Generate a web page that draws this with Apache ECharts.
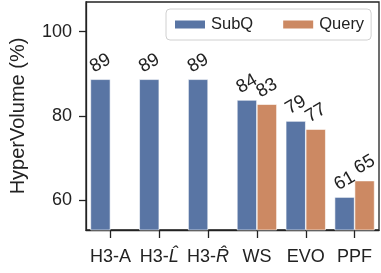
<!DOCTYPE html>
<html>
<head>
<meta charset="utf-8">
<script src="https://cdn.jsdelivr.net/npm/echarts@6/dist/echarts.min.js"></script>
<style>html,body{margin:0;padding:0;background:#fff;}#c{width:381px;height:273px;}</style>
</head>
<body>
<div id="c"></div>
<script>
var categories = ['H3-A', 'H3-L', 'H3-R', 'WS', 'EVO', 'PPF'];
var subqValues = [88.7, 88.7, 88.7, 83.8, 78.8, 60.8];
var queryValues = [null, null, null, 82.8, 76.9, 64.7];
var yTicks = [60, 80, 100];
var seriesNames = ['SubQ', 'Query'];
var yAxisName = 'HyperVolume (%)';

var font = '"Liberation Sans", Arial, Helvetica, sans-serif';
var dark = '#222222';
var chart = echarts.init(document.getElementById('c'), null, {renderer: 'canvas'});

function catLabel(v) {
  if (v === 'H3-L') return '{n|H3-}{i|L\u0302}';
  if (v === 'H3-R') return '{n|H3-}{i|R\u0302}';
  return '{n|' + v + '}';
}
var labelCfg = {
  show: true, position: 'top', distance: 16, rotate: 30,
  align: 'center', verticalAlign: 'middle',
  fontFamily: font, fontSize: 18.5, color: dark,
  formatter: function (p) { return Math.round(p.value); }
};

chart.setOption({
  animation: false,
  textStyle: {fontFamily: font},
  grid: {left: 73, right: 2, top: 2, bottom: 43, show: true, borderColor: dark, borderWidth: 1.3, backgroundColor: 'transparent'},
  legend: {
    data: seriesNames, left: 166, top: 9, padding: [7, 7, 7, 7], itemGap: 28,
    itemWidth: 32, itemHeight: 10,
    borderColor: '#d0d0d0', borderWidth: 1, borderRadius: 4, backgroundColor: '#fff',
    textStyle: {fontFamily: font, fontSize: 16.5, color: dark},
    icon: 'rect'
  },
  xAxis: {
    type: 'category', data: categories, boundaryGap: true,
    axisLine: {lineStyle: {color: dark, width: 1.3}},
    axisTick: {show: true, alignWithLabel: true, length: 8, lineStyle: {color: dark, width: 1.3}},
    axisLabel: {
      margin: 18, formatter: catLabel, interval: 0,
      rich: {
        n: {fontFamily: font, fontSize: 18, color: dark},
        i: {fontFamily: font, fontSize: 18, color: dark, fontStyle: 'italic'}
      }
    }
  },
  yAxis: {
    type: 'value', min: 53, max: 107,
    name: yAxisName, nameLocation: 'middle', nameGap: 58,
    nameTextStyle: {fontFamily: font, fontSize: 20, color: dark},
    axisLine: {show: true, lineStyle: {color: dark, width: 1.3}},
    axisTick: {show: true, length: 7, lineStyle: {color: dark, width: 1.3}, customValues: yTicks},
    axisLabel: {margin: 14, fontFamily: font, fontSize: 18, color: dark, customValues: yTicks},
    splitLine: {show: false}
  },
  series: [
    {name: seriesNames[0], type: 'bar', data: subqValues, barWidth: 20, barGap: '0%',
     itemStyle: {color: '#5975A4', borderColor: '#fff', borderWidth: 0.6}, label: labelCfg},
    {name: seriesNames[1], type: 'bar', data: queryValues, barWidth: 20, barGap: '0%',
     itemStyle: {color: '#CC8963', borderColor: '#fff', borderWidth: 0.6}, label: labelCfg}
  ]
});
</script>
</body>
</html>
